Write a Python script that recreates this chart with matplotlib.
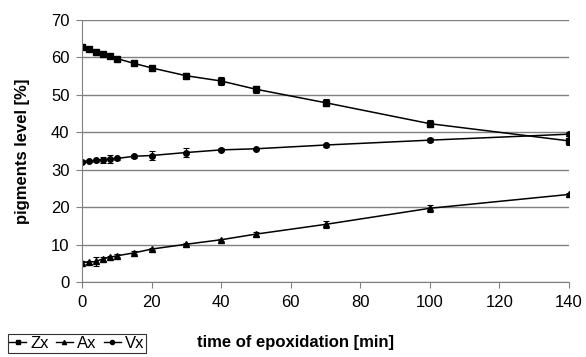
import numpy as np
import matplotlib.pyplot as plt
from matplotlib.lines import Line2D

plt.rcParams['font.family'] = ['Liberation Sans', 'DejaVu Sans']

# data
time = [0, 2, 4, 6, 8, 10, 15, 20, 30, 40, 50, 70, 100, 140]
zx = [62.7, 62.2, 61.5, 60.8, 60.3, 59.7, 58.4, 57.2, 55.1, 53.7, 51.5, 47.9, 42.3, 37.7]
zx_err = [0.4, 0.3, 0.3, 0.4, 0.4, 0.5, 0.5, 0.4, 0.7, 1.0, 1.0, 1.0, 1.0, 1.2]
ax_ = [5.2, 5.3, 5.5, 6.2, 6.6, 7.0, 7.8, 8.8, 10.1, 11.3, 12.8, 15.4, 19.7, 23.4]
ax_err = [0.3, 0.4, 1.2, 0.5, 0.4, 0.4, 0.4, 0.3, 0.3, 0.3, 0.6, 1.0, 1.0, 0.4]
vx = [32.1, 32.3, 32.5, 32.7, 32.9, 33.0, 33.6, 33.8, 34.6, 35.3, 35.6, 36.6, 37.9, 39.5]
vx_err = [0.4, 0.3, 0.4, 0.8, 1.0, 0.4, 0.4, 1.2, 1.2, 0.4, 0.3, 0.4, 0.5, 0.5]

fig = plt.figure(figsize=(5.86, 3.57), dpi=100)
ax = fig.add_axes([0.14, 0.21, 0.831, 0.734])

series = [('Zx', zx, zx_err, 's'), ('Ax', ax_, ax_err, '^'), ('Vx', vx, vx_err, 'o')]
handles = []
for name, vals, err, mk in series:
    ax.errorbar(time, vals, yerr=err, color='black', lw=1.1, marker=mk,
                markersize=4, capsize=2, elinewidth=0.8, capthick=0.8)
    handles.append(Line2D([], [], color='black', lw=1.0, marker=mk, markersize=3, label=name))

ax.set_xlim(0, 140)
ax.set_ylim(0, 70)
ax.set_xticks(np.arange(0, 141, 20))
ax.set_yticks(np.arange(0, 71, 10))
ax.grid(axis='y', color='#808080', lw=1.0)
ax.set_axisbelow(True)
for s in ['top', 'right']:
    ax.spines[s].set_visible(False)
for s in ['left', 'bottom']:
    ax.spines[s].set_color('#808080')
ax.tick_params(axis='both', colors='#808080', labelcolor='black', labelsize=12, length=4)
ax.tick_params(axis='x', pad=5)
ax.tick_params(axis='y', pad=5)
ax.set_ylabel('pigments level [%]', fontsize=12, fontweight='bold', labelpad=15)

fig.text(0.505, 0.042, 'time of epoxidation [min]', fontsize=12, fontweight='bold',
         ha='center', va='center')

leg = fig.legend(handles=handles, ncol=3, loc='lower left',
                 bbox_to_anchor=(0.013, 0.012), fontsize=12, frameon=True, fancybox=False,
                 handlelength=1.0, handletextpad=0.25, columnspacing=0.45,
                 borderpad=0.1, borderaxespad=0)
leg.get_frame().set_edgecolor('black')
leg.get_frame().set_linewidth(0.8)

fig.savefig('out.png', dpi=100)
